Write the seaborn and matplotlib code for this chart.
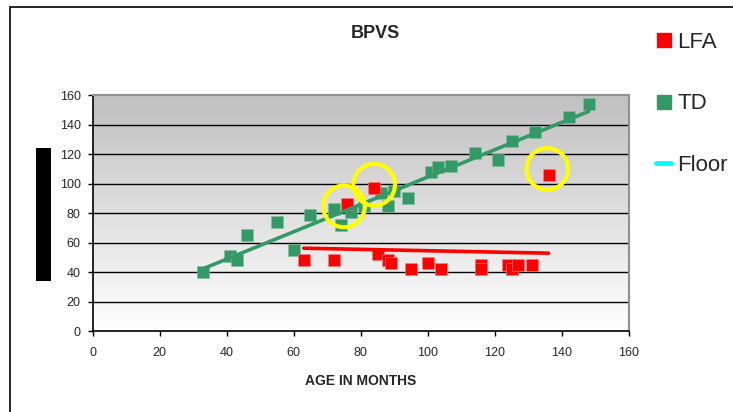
import numpy as np
import pandas as pd
import matplotlib
matplotlib.use("Agg")
import matplotlib.pyplot as plt
from matplotlib.colors import LinearSegmentedColormap
from matplotlib.lines import Line2D
from matplotlib.patches import Rectangle
import seaborn as sns

# ---- data ----
td_age = [33, 41, 43, 46, 55, 60, 65, 72, 74, 77, 81, 86, 88, 90, 94, 101, 103, 107, 114, 121, 125, 132, 142, 148]
td_score = [40, 51, 48, 65, 74, 55, 79, 83, 72, 81, 85, 94, 85, 95, 90, 108, 111, 112, 121, 116, 129, 135, 145, 154]

lfa_age = [63, 72, 76, 84, 85, 88, 89, 95, 100, 104, 116, 116, 124, 125, 127, 131, 136]
lfa_score = [48, 48, 86, 97, 52, 48, 46, 42, 46, 42, 45, 42, 45, 42, 45, 45, 106]

circle_age = [75, 84, 135.6]
circle_score = [84.6, 99.3, 110]

x_ticks = [0, 20, 40, 60, 80, 100, 120, 140, 160]
y_ticks = [0, 20, 40, 60, 80, 100, 120, 140, 160]
legend_labels = ["LFA", "TD", "Floor"]

GREEN = "#339966"
RED = "#ff0000"
YELLOW = "#ffff00"
CYAN = "#00ffff"

sns.set_style("white")
plt.rcParams["font.family"] = ["Liberation Sans", "DejaVu Sans"]

td = pd.DataFrame({"age": td_age, "score": td_score})
lfa = pd.DataFrame({"age": lfa_age, "score": lfa_score})

fig = plt.figure(figsize=(7.33, 4.12), dpi=100)
ax = fig.add_axes([92.5 / 733, (412 - 331) / 412, 536.5 / 733, 235.7 / 412])

# gradient background
cmap = LinearSegmentedColormap.from_list("bg", ["#ffffff", "#c0c0c0"])
grad = np.linspace(0, 1, 256).reshape(-1, 1)
ax.imshow(grad, extent=[0, 1, 0, 1], transform=ax.transAxes, aspect="auto",
          cmap=cmap, origin="lower", zorder=0)

ax.set_xlim(0, 160)
ax.set_ylim(0, 160)

# gridlines
for yv in y_ticks[1:-1]:
    ax.axhline(yv, color="black", lw=1.0, zorder=1)

sns.scatterplot(data=td, x="age", y="score", ax=ax, marker="s", s=82,
                color=GREEN, edgecolor="#7fbf9f", linewidth=0.4, zorder=3, legend=False)
sns.scatterplot(data=lfa, x="age", y="score", ax=ax, marker="s", s=82,
                color=RED, edgecolor="#ff8080", linewidth=0.4, zorder=3, legend=False)

sns.regplot(data=td, x="age", y="score", ax=ax, scatter=False, ci=None,
            color=GREEN, line_kws={"lw": 2.6, "zorder": 4})
sns.regplot(data=lfa, x="age", y="score", ax=ax, scatter=False, ci=None,
            color=RED, line_kws={"lw": 2.6, "zorder": 4})

ax.scatter(circle_age, circle_score, s=900, facecolors="none", edgecolors=YELLOW,
           linewidths=3.0, zorder=5, clip_on=False)

ax.set_xlim(0, 160)
ax.set_ylim(0, 160)
ax.set_xticks(x_ticks)
ax.set_yticks(y_ticks)
ax.tick_params(axis="both", direction="out", length=3.5, width=1, color="black",
               labelsize=9, pad=5, left=True, bottom=True)
ax.tick_params(axis="x", pad=8)
ax.set_xlabel("AGE IN MONTHS", fontsize=10, fontweight="bold", labelpad=11)
ax.set_ylabel("")
for s in ["left", "bottom"]:
    ax.spines[s].set_color("black")
    ax.spines[s].set_linewidth(1.2)
for s in ["top", "right"]:
    ax.spines[s].set_color("#909090")
    ax.spines[s].set_linewidth(1.5)

fig.text(375 / 733, 1 - 33.5 / 412, "BPVS", fontsize=13, fontweight="bold",
         ha="center", va="center")

# redacted y-axis label block
fig.patches.append(Rectangle((36 / 733, (412 - 281) / 412), 15 / 733, 133 / 412,
                             transform=fig.transFigure, facecolor="black",
                             edgecolor="none", zorder=2))

# outer chart frame (cropped at right/bottom)
fig.patches.append(Rectangle((10 / 733, -0.2), 1.2, (412 - 7) / 412 + 0.2,
                             transform=fig.transFigure, facecolor="none",
                             edgecolor="black", lw=1.2, zorder=1))

handles = [
    Line2D([], [], marker="s", color=RED, linestyle="none", markersize=9.5),
    Line2D([], [], marker="s", color=GREEN, linestyle="none", markersize=9.5),
    Line2D([], [], color=CYAN, lw=3.5),
]
fig.legend(handles, legend_labels, loc="upper left", bbox_to_anchor=(647 / 733, 1 - 23 / 412),
           frameon=False, fontsize=16, labelspacing=1.82, handlelength=0.7,
           handletextpad=0.25, borderaxespad=0)

fig.savefig("out.png", dpi=100)
